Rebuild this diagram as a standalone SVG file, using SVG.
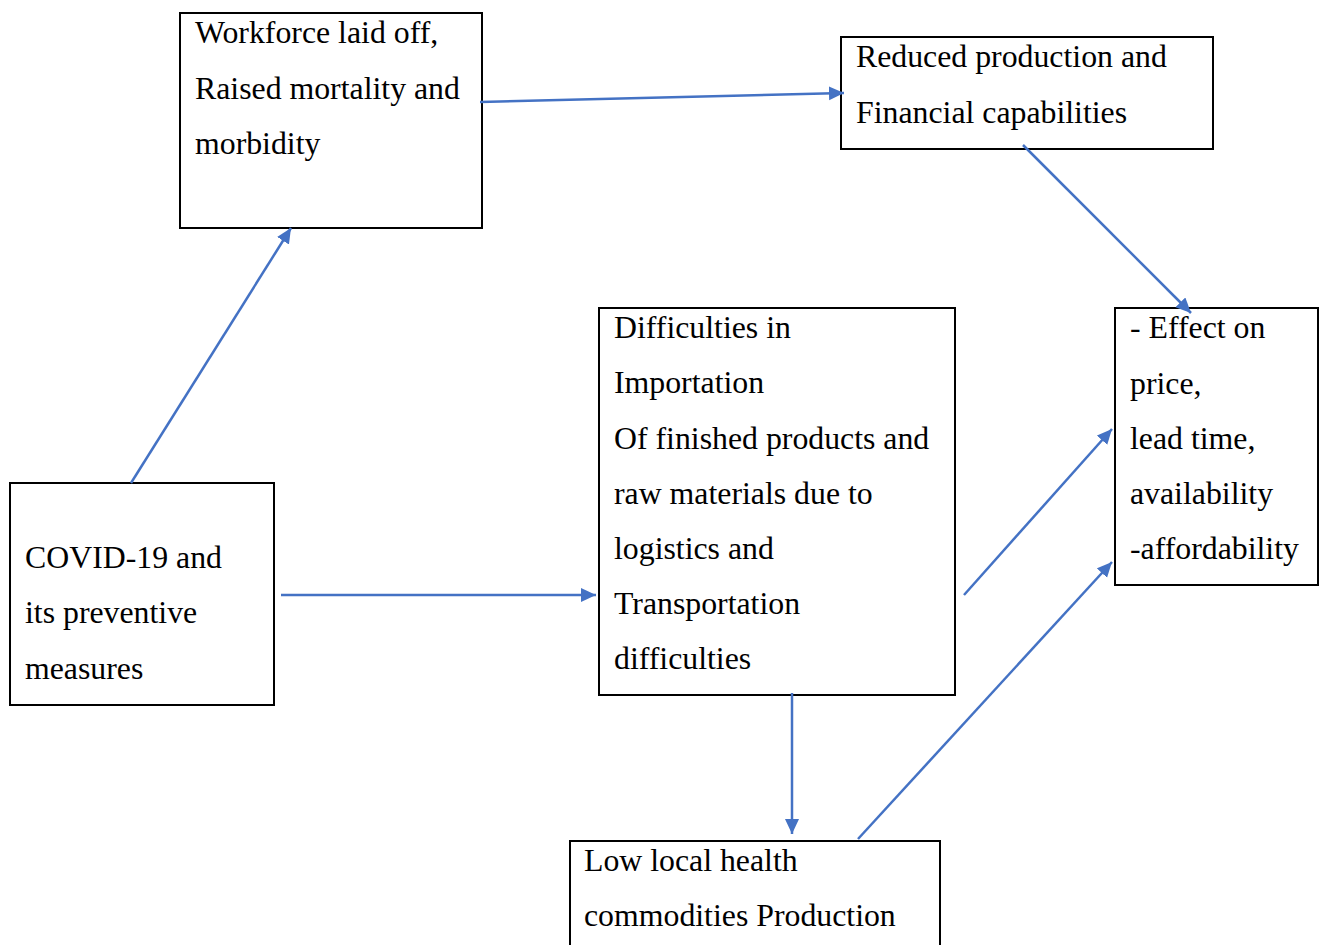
<svg xmlns="http://www.w3.org/2000/svg" width="1324" height="945" viewBox="0 0 1324 945">
<style>
.box{fill:#fff;stroke:#000;stroke-width:2}
.t{font-family:"Liberation Serif","Times New Roman",serif;font-size:31.8px;fill:#000}
.c{stroke:#4472C4;stroke-width:2.5;fill:none}
</style>
<defs>
<marker id="ah" markerUnits="userSpaceOnUse" markerWidth="18" markerHeight="16" refX="15" refY="7" orient="auto">
<path d="M0,0 L15,7 L0,14 Z" fill="#4472C4"/>
</marker>
</defs>
<rect width="1324" height="945" fill="#fff"/>
<g id="n-workforce">
<rect class="box" x="180" y="13" width="302" height="215"/>
<text class="t" x="195" y="43">Workforce laid off,</text>
<text class="t" x="195" y="99">Raised mortality and</text>
<text class="t" x="195" y="154">morbidity</text>
</g>
<g id="n-reduced">
<rect class="box" x="841" y="37" width="372" height="112"/>
<text class="t" x="856" y="67">Reduced production and</text>
<text class="t" x="856" y="123">Financial capabilities</text>
</g>
<g id="n-effect">
<rect class="box" x="1115" y="308" width="203" height="277"/>
<text class="t" x="1130" y="338">- Effect on</text>
<text class="t" x="1130" y="394">price,</text>
<text class="t" x="1130" y="449">lead time,</text>
<text class="t" x="1130" y="504">availability</text>
<text class="t" x="1130" y="559">-affordability</text>
</g>
<g id="n-difficulties">
<rect class="box" x="599" y="308" width="356" height="387"/>
<text class="t" x="614" y="338">Difficulties in</text>
<text class="t" x="614" y="393">Importation</text>
<text class="t" x="614" y="449">Of finished products and</text>
<text class="t" x="614" y="504">raw materials due to</text>
<text class="t" x="614" y="559">logistics and</text>
<text class="t" x="614" y="614">Transportation</text>
<text class="t" x="614" y="669">difficulties</text>
</g>
<g id="n-covid">
<rect class="box" x="10" y="483" width="264" height="222"/>
<text class="t" x="25" y="568">COVID-19 and</text>
<text class="t" x="25" y="623">its preventive</text>
<text class="t" x="25" y="679">measures</text>
</g>
<g id="n-low">
<rect class="box" x="570" y="841" width="370" height="110"/>
<text class="t" x="584" y="871">Low local health</text>
<text class="t" x="584" y="926">commodities Production</text>
</g>
<g id="connectors">
<line class="c" x1="131" y1="483" x2="291" y2="228" marker-end="url(#ah)"/>
<line class="c" x1="480" y1="102" x2="844" y2="93" marker-end="url(#ah)"/>
<line class="c" x1="1023" y1="145" x2="1191" y2="313" marker-end="url(#ah)"/>
<line class="c" x1="281" y1="595" x2="596" y2="595" marker-end="url(#ah)"/>
<line class="c" x1="964" y1="595" x2="1112" y2="429" marker-end="url(#ah)"/>
<line class="c" x1="792" y1="693" x2="792" y2="834" marker-end="url(#ah)"/>
<line class="c" x1="858" y1="839" x2="1112" y2="562" marker-end="url(#ah)"/>
</g>
</svg>
